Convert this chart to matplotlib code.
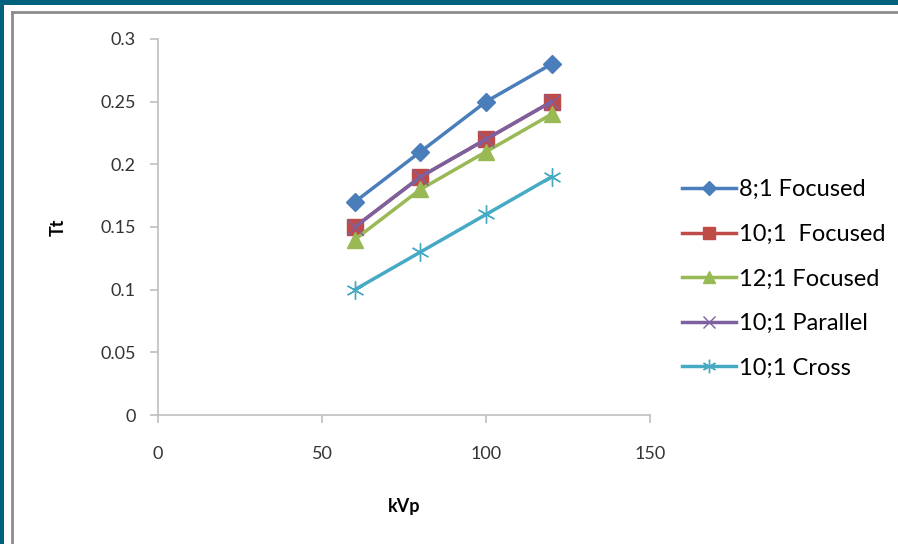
import matplotlib.pyplot as plt
from matplotlib.patches import Rectangle
from matplotlib.lines import Line2D

kvp = [60, 80, 100, 120]
focused_8 = [0.17, 0.21, 0.25, 0.28]
focused_10 = [0.15, 0.19, 0.22, 0.25]
focused_12 = [0.14, 0.18, 0.21, 0.24]
parallel_10 = [0.15, 0.19, 0.22, 0.25]
cross_10 = [0.10, 0.13, 0.16, 0.19]

labels = ["8;1 Focused", "10;1  Focused", "12;1 Focused", "10;1 Parallel", "10;1 Cross"]
colors = ["#4A7EBB", "#BE4B48", "#98B954", "#7D60A0", "#46AAC5"]
markers = ["D", "s", "^", "x", (6, 2, 0)]
sizes = [9, 11, 11, 11, 13]

plt.rcParams['font.family'] = ['Lato', 'DejaVu Sans']

fig = plt.figure(figsize=(8.98, 5.44), dpi=100)

# dark frame bands and grey inner border
fig.patches.append(Rectangle((0, 1 - 5 / 544), 1, 5 / 544, transform=fig.transFigure,
                             facecolor="#00627D", edgecolor="none", zorder=0))
fig.patches.append(Rectangle((0, 0), 4 / 898, 1, transform=fig.transFigure,
                             facecolor="#00627D", edgecolor="none", zorder=0))
fig.add_artist(Line2D([12 / 898, 1], [1 - 11.5 / 544, 1 - 11.5 / 544], transform=fig.transFigure,
                      color="#8C8C8C", lw=2))
fig.add_artist(Line2D([12 / 898, 12 / 898], [0, 1 - 11.5 / 544], transform=fig.transFigure,
                      color="#8C8C8C", lw=2))

ax = fig.add_axes([158 / 898, 1 - 415 / 544, (650 - 158) / 898, (415 - 39) / 544])

series = [focused_8, focused_10, focused_12, parallel_10, cross_10]
handles = []
for vals, lab, c, m, ms in zip(series, labels, colors, markers, sizes):
    h, = ax.plot(kvp, vals, color=c, lw=2.5, marker=m, markersize=ms,
                 markeredgecolor=c, markeredgewidth=1.0, label=lab)
    handles.append(h)

ax.set_xlim(0, 150)
ax.set_ylim(0, 0.3)
ax.set_xticks([0, 50, 100, 150])
ax.set_yticks([0, 0.05, 0.1, 0.15, 0.2, 0.25, 0.3])
ax.set_yticklabels(["0", "0.05", "0.1", "0.15", "0.2", "0.25", "0.3"])

for s in ["top", "right"]:
    ax.spines[s].set_visible(False)
for s in ["left", "bottom"]:
    ax.spines[s].set_color("#BFBFBF")
    ax.spines[s].set_linewidth(1.2)
ax.tick_params(colors="#BFBFBF", labelcolor="#333333", labelsize=13, length=6, width=1.2)
ax.tick_params(axis="x", pad=16)
ax.tick_params(axis="y", pad=10)

ax.set_xlabel("kVp", fontsize=13, fontweight="bold", labelpad=26)
ax.set_ylabel("Tt", fontsize=13, fontweight="bold", labelpad=24)

fig.legend(handles=handles, labels=labels, loc="center left",
           bbox_to_anchor=(682 / 898, 1 - 279 / 544), frameon=False,
           fontsize=17, handlelength=2.3, handletextpad=0.12, labelspacing=1.0,
           borderaxespad=0, borderpad=0, markerscale=0.75)

fig.savefig("out.png", dpi=100)
